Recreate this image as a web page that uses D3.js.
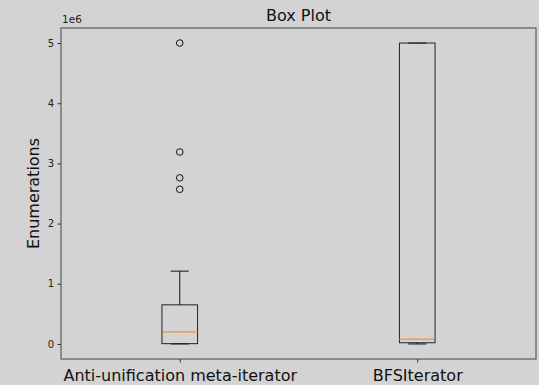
<!DOCTYPE html>
<html>
<head>
<meta charset="utf-8">
<script src="https://cdn.jsdelivr.net/npm/d3@7"></script>
<style>
  body { margin: 0; background: #d3d3d3; }
  text { font-family: "DejaVu Sans", sans-serif; }
</style>
</head>
<body>
<script>
// box plot stats (values in enumerations)
var categories = ["Anti-unification meta-iterator", "BFSIterator"];
var whiskerLow = [0, 0];
var q1 = [5000, 20000];
var medians = [200000, 80000];
var q3 = [650000, 5000000];
var whiskerHigh = [1210000, 5000000];
var outliers = [[5000000, 3190000, 2760000, 2570000], []];
var yTicks = [0, 1, 2, 3, 4, 5];

var margin = {top: 28, bottom: 26, left: 61, right: 3},
    W = 539, H = 385,
    width = W - margin.left - margin.right,
    height = H - margin.top - margin.bottom;

var svg = d3.select("body").append("svg")
    .attr("width", W)
    .attr("height", H);

var g = svg.append("g")
    .attr("transform", "translate(" + margin.left + "," + margin.top + ")");

var x = d3.scaleLinear()
    .domain([0.5, 2.5])
    .range([0, width]);

var y = d3.scaleLinear()
    .domain([-250000, 5250000])
    .range([height, 0]);

var boxW = x(0.15) - x(0);

var yAxis = d3.axisLeft(y)
    .tickValues(yTicks.map(function(d) { return d * 1e6; }))
    .tickFormat(function(d) { return d / 1e6; })
    .tickSize(3.5)
    .tickPadding(3.5);

var xAxis = d3.axisBottom(x)
    .tickValues([1, 2])
    .tickFormat(function(d) { return categories[d - 1]; })
    .tickSize(3.5)
    .tickPadding(7);

var ya = g.append("g").attr("class", "y-axis").call(yAxis);
ya.select(".domain").remove();
ya.selectAll("text").style("font-size", "10px").attr("fill", "#222");
ya.selectAll("line").attr("stroke", "#333");

var xa = g.append("g")
    .attr("class", "x-axis")
    .attr("transform", "translate(0," + height + ")")
    .call(xAxis);
xa.select(".domain").remove();
xa.selectAll("text").style("font-size", "16px").attr("fill", "#111");
xa.selectAll("line").attr("stroke", "#333");

var idx = d3.range(categories.length);

// whiskers
g.selectAll(".whisker-lo").data(idx).enter().append("line")
    .attr("x1", function(i) { return x(i + 1); })
    .attr("x2", function(i) { return x(i + 1); })
    .attr("y1", function(i) { return y(q1[i]); })
    .attr("y2", function(i) { return y(whiskerLow[i]); })
    .attr("stroke", "#111");
g.selectAll(".whisker-hi").data(idx).enter().append("line")
    .attr("x1", function(i) { return x(i + 1); })
    .attr("x2", function(i) { return x(i + 1); })
    .attr("y1", function(i) { return y(q3[i]); })
    .attr("y2", function(i) { return y(whiskerHigh[i]); })
    .attr("stroke", "#111");

// caps
[whiskerLow, whiskerHigh].forEach(function(arr) {
  g.selectAll(null).data(idx).enter().append("line")
      .attr("x1", function(i) { return x(i + 1) - boxW / 4; })
      .attr("x2", function(i) { return x(i + 1) + boxW / 4; })
      .attr("y1", function(i) { return y(arr[i]); })
      .attr("y2", function(i) { return y(arr[i]); })
      .attr("stroke", "#111");
});

// boxes
g.selectAll(".box").data(idx).enter().append("rect")
    .attr("class", "box")
    .attr("x", function(i) { return x(i + 1) - boxW / 2; })
    .attr("y", function(i) { return y(q3[i]); })
    .attr("width", boxW)
    .attr("height", function(i) { return y(q1[i]) - y(q3[i]); })
    .attr("fill", "none")
    .attr("stroke", "#222");

// medians
g.selectAll(".median").data(idx).enter().append("line")
    .attr("x1", function(i) { return x(i + 1) - boxW / 2; })
    .attr("x2", function(i) { return x(i + 1) + boxW / 2; })
    .attr("y1", function(i) { return y(medians[i]); })
    .attr("y2", function(i) { return y(medians[i]); })
    .attr("stroke", "#ff7f0e");

// fliers
var fl = [];
outliers.forEach(function(arr, i) { arr.forEach(function(v) { fl.push({pos: i + 1, v: v}); }); });
g.selectAll(".flier").data(fl).enter().append("circle")
    .attr("cx", function(d) { return x(d.pos); })
    .attr("cy", function(d) { return y(d.v); })
    .attr("r", 3.3)
    .attr("fill", "none")
    .attr("stroke", "#111");

// frame
g.append("rect")
    .attr("width", width).attr("height", height)
    .attr("fill", "none").attr("stroke", "#444").attr("stroke-width", 1);

// offset text, title, y label
g.append("text").attr("x", 1).attr("y", -5)
    .style("font-size", "10.5px").attr("fill", "#222").text("1e6");

svg.append("text")
    .attr("x", margin.left + width / 2).attr("y", 21)
    .attr("text-anchor", "middle")
    .style("font-size", "16px").attr("fill", "#111")
    .text("Box Plot");

svg.append("text")
    .attr("transform", "translate(39," + (margin.top + height / 2) + ") rotate(-90)")
    .attr("text-anchor", "middle")
    .style("font-size", "16px").attr("fill", "#111")
    .text("Enumerations");
</script>
</body>
</html>
